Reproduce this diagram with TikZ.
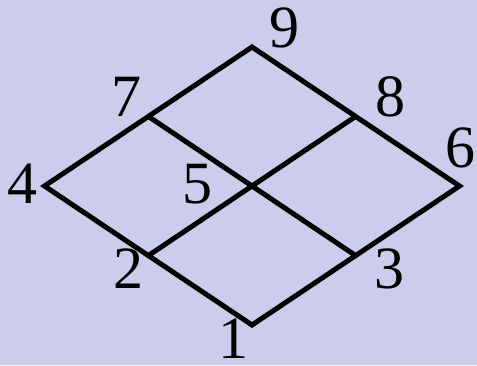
\documentclass[tikz,border=0pt]{standalone}
\usepackage{fontspec}
\setmainfont{Liberation Serif}
\definecolor{bgcol}{RGB}{204,204,236}
\begin{document}
\begin{tikzpicture}[x=1pt,y=-1pt,
  edge/.style={line width=5pt,black,line join=miter},
  lbl/.style={inner sep=0pt,anchor=center,font=\fontsize{60}{72}\selectfont}]
\fill[bgcol] (0,0) rectangle (477,365);
\useasboundingbox (0,0) rectangle (477,365);
\coordinate (v1) at (252,325);
\coordinate (v2) at (148.5,255.5);
\coordinate (v3) at (355.5,255.5);
\coordinate (v4) at (44.5,186);
\coordinate (v5) at (252,186);
\coordinate (v6) at (459.5,186);
\coordinate (v7) at (148.5,116.5);
\coordinate (v8) at (355.5,116.5);
\coordinate (v9) at (252,47);
\draw[edge] (v4) -- (v9) -- (v6) -- (v1) -- cycle;
\draw[edge] (v7) -- (v5) -- (v3);
\draw[edge] (v2) -- (v5) -- (v8);
\node[lbl] (l9) at (284.5,27.5) {9};
\node[lbl] (l7) at (126.7,96.5) {7};
\node[lbl] (l8) at (390,96.5) {8};
\node[lbl] (l6) at (460,147.5) {6};
\node[lbl] (l4) at (22.8,183.3) {4};
\node[lbl] (l5) at (197.3,183.7) {5};
\node[lbl] (l2) at (128,269) {2};
\node[lbl] (l3) at (389,269) {3};
\node[lbl] (l1) at (233,339) {1};
\end{tikzpicture}
\end{document}
